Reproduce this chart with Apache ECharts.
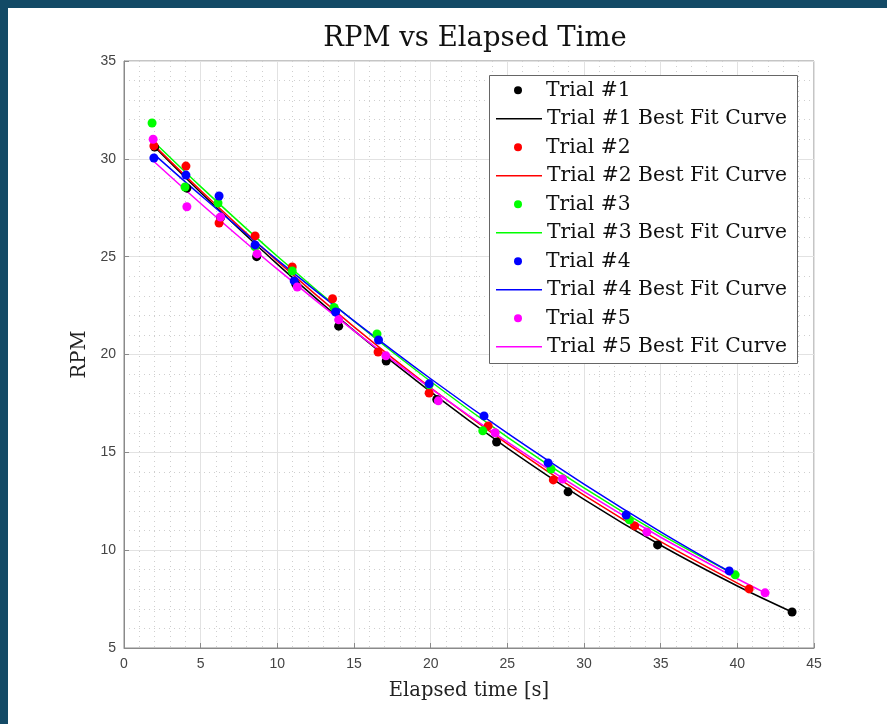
<!DOCTYPE html>
<html>
<head>
<meta charset="utf-8">
<script src="https://cdn.jsdelivr.net/npm/echarts@6/dist/echarts.min.js"></script>
<style>
  html, body { margin: 0; padding: 0; width: 887px; height: 724px; overflow: hidden; background: #134a66; }
  #paper { position: absolute; left: 8px; top: 8px; right: 0; bottom: 0; background: #ffffff; }
  #chart { position: absolute; left: 0; top: 0; width: 887px; height: 724px; }
</style>
</head>
<body>
<div id="paper"></div>
<div id="chart"></div>
<script>
// ---- Data ----
const xTicks = [0, 5, 10, 15, 20, 25, 30, 35, 40, 45];
const yTicks = [5, 10, 15, 20, 25, 30, 35];

const trialNames = ['Trial #1', 'Trial #2', 'Trial #3', 'Trial #4', 'Trial #5'];
const trialColors = ['#000000', '#ff0000', '#00ff00', '#0000ff', '#ff00ff'];

// measured points [elapsed time s, RPM]
const trial1 = [[2.0,30.6],[4.1,28.5],[6.3,27.0],[8.65,25.0],[11.2,23.6],[14.0,21.45],[17.1,19.67],[20.4,17.7],[24.3,15.53],[28.96,12.98],[34.8,10.27],[43.57,6.84]];
const trial2 = [[1.95,30.66],[4.04,29.63],[6.2,26.72],[8.55,26.06],[10.97,24.47],[13.6,22.85],[16.57,20.13],[19.9,18.03],[23.75,16.35],[28.0,13.59],[33.3,11.24],[40.77,8.02]];
const trial3 = [[1.83,31.83],[3.98,28.56],[6.13,27.74],[8.55,25.5],[10.97,24.27],[13.7,22.4],[16.5,21.05],[19.9,18.45],[23.4,16.1],[27.85,14.15],[32.96,11.55],[39.86,8.74]];
const trial4 = [[1.95,30.04],[4.04,29.17],[6.2,28.1],[8.55,25.6],[11.1,23.76],[13.8,22.17],[16.6,20.74],[19.9,18.5],[23.48,16.86],[27.66,14.46],[32.75,11.8],[39.47,8.94]];
const trial5 = [[1.9,31.0],[4.1,27.55],[6.3,27.03],[8.68,25.14],[11.3,23.45],[14.0,21.77],[17.08,19.93],[20.5,17.63],[24.2,16.0],[28.6,13.64],[34.1,10.93],[41.81,7.82]];

// best fit curves
const fit1 = [[2,30.6],[5,28.28],[10,24.62],[15,21.22],[20,18.09],[25,15.22],[30,12.6],[35,10.25],[40,8.17],[43.57,6.84]];
const fit2 = [[1.95,30.7],[5,28.38],[10,24.77],[15,21.41],[20,18.3],[25,15.43],[30,12.81],[35,10.44],[40,8.32],[40.77,8.02]];
const fit3 = [[1.83,30.96],[5,28.58],[10,25.02],[15,21.7],[20,18.62],[25,15.78],[30,13.18],[35,10.81],[39.86,8.74]];
const fit4 = [[1.95,30.24],[5,28.14],[10,24.84],[15,21.72],[20,18.76],[25,15.98],[30,13.38],[35,10.94],[39.47,8.91]];
const fit5 = [[1.9,29.9],[5,27.72],[10,24.36],[15,21.21],[20,18.27],[25,15.53],[30,12.99],[35,10.66],[40,8.54],[41.81,7.82]];

const trials = [trial1, trial2, trial3, trial4, trial5];
const fits = [fit1, fit2, fit3, fit4, fit5];

// ---- Chart ----
const serif = 'DejaVu Serif';
const sans = 'Liberation Sans';
const lineSeries = [];
const pointSeries = [];
const pointNames = [];
const fitNames = [];
trialNames.forEach((name, i) => {
  const fitName = name + ' Best Fit Curve';
  pointNames.push({ name: name, icon: 'circle' });
  fitNames.push({ name: fitName, icon: 'rect' });
  pointSeries.push({
    name: name, type: 'scatter', data: trials[i], symbol: 'circle', symbolSize: 9,
    itemStyle: { color: trialColors[i], opacity: 1 }, z: 3
  });
  lineSeries.push({
    name: fitName, type: 'line', data: fits[i], symbol: 'none', smooth: 0.3,
    lineStyle: { color: trialColors[i], width: 1.5 }, itemStyle: { color: trialColors[i] }, z: 2
  });
});

const rowH = 28.5;
const legendLeft = 489, legendTop = 75, legendW = 308, legendH = 288;
const legendText = { fontFamily: serif, fontSize: 20.3, color: '#111', lineHeight: rowH };

const chart = echarts.init(document.getElementById('chart'), null, { renderer: 'canvas' });
chart.setOption({
  backgroundColor: 'transparent',
  animation: false,
  title: {
    text: 'RPM vs Elapsed Time', left: 470, top: 20, textAlign: 'center',
    textStyle: { fontFamily: serif, fontSize: 27.5, fontWeight: 'normal', color: '#111' }
  },
  grid: { left: 124, right: 73, top: 61, bottom: 76, show: true, borderColor: '#8a8a8a', borderWidth: 1, backgroundColor: 'transparent' },
  graphic: [{
    type: 'rect', left: legendLeft, top: legendTop, z: 5,
    shape: { width: legendW, height: legendH },
    style: { fill: '#ffffff', stroke: '#666666', lineWidth: 1 }
  }],
  legend: [{
    orient: 'vertical', left: legendLeft + 25, top: legendTop + 1, selectedMode: false, z: 6,
    data: pointNames, itemWidth: 46, itemHeight: 8, itemGap: rowH, padding: 0,
    textStyle: legendText
  }, {
    orient: 'vertical', left: legendLeft + 7, top: legendTop + 1 + rowH, selectedMode: false, z: 6,
    data: fitNames, itemWidth: 46, itemHeight: 1.5, itemGap: rowH, padding: 0,
    textStyle: legendText
  }],
  xAxis: {
    type: 'value', min: xTicks[0], max: xTicks[xTicks.length - 1], interval: 5,
    name: 'Elapsed time [s]', nameLocation: 'middle', nameGap: 33,
    nameTextStyle: { fontFamily: serif, fontSize: 19.5, color: '#222' },
    axisLine: { show: true, lineStyle: { color: '#8a8a8a' } },
    axisTick: { show: true, inside: true, length: 5, lineStyle: { color: '#8a8a8a' } },
    axisLabel: { fontFamily: sans, fontSize: 14, color: '#444', margin: 9 },
    splitLine: { show: true, lineStyle: { color: '#e2e2e2', width: 1 } },
    minorTick: { show: false, splitNumber: 5 },
    minorSplitLine: { show: true, lineStyle: { color: '#cfcfcf', type: [1, 4], width: 1 } }
  },
  yAxis: {
    type: 'value', min: yTicks[0], max: yTicks[yTicks.length - 1], interval: 5,
    name: 'RPM', nameLocation: 'middle', nameGap: 30,
    nameTextStyle: { fontFamily: serif, fontSize: 19.5, color: '#222' },
    axisLine: { show: true, lineStyle: { color: '#8a8a8a' } },
    axisTick: { show: true, inside: true, length: 5, lineStyle: { color: '#8a8a8a' } },
    axisLabel: { fontFamily: sans, fontSize: 14, color: '#444', margin: 8 },
    splitLine: { show: true, lineStyle: { color: '#e2e2e2', width: 1 } },
    minorTick: { show: false, splitNumber: 5 },
    minorSplitLine: { show: true, lineStyle: { color: '#cfcfcf', type: [1, 4], width: 1 } }
  },
  series: lineSeries.concat(pointSeries)
});
</script>
</body>
</html>
